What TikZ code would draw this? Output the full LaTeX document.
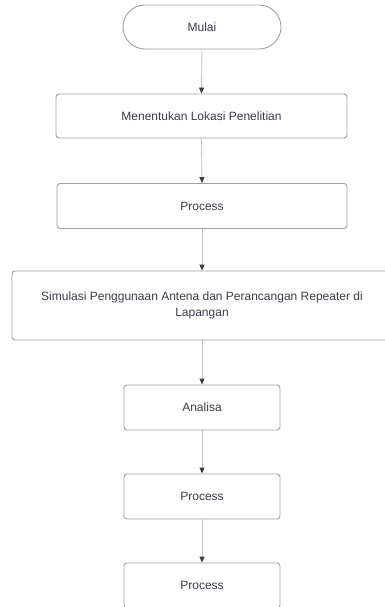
\documentclass[tikz,border=0pt]{standalone}
\usepackage{fontspec}
\setmainfont{Liberation Sans}
\usetikzlibrary{arrows.meta}
\definecolor{boxline}{HTML}{A0A0A0}
\definecolor{conn}{HTML}{C4C4C4}
\definecolor{tipc}{HTML}{3A3D45}
\definecolor{txt}{HTML}{3A3D45}
\begin{document}
\begin{tikzpicture}[x=1pt,y=-1pt,
  box/.style={draw=boxline,line width=0.9pt,rounded corners=3pt,inner sep=0pt,
    font=\fontsize{12}{16}\selectfont,text=txt,align=center},
  term/.style={box,rounded corners=22pt},
  conn/.style={draw=conn,line width=0.9pt,-{Triangle[width=5pt,length=6pt,color=tipc]}}]
\useasboundingbox[fill=white] (0,0) rectangle (384,607);
\node[term,minimum width=158pt,minimum height=44pt] (mulai) at (202,27) {Mulai};
\node[box,minimum width=291pt,minimum height=44pt] (lokasi) at (201.5,116) {Menentukan Lokasi Penelitian};
\node[box,minimum width=290pt,minimum height=45pt] (proc1) at (202,206) {Process};
\node[box,minimum width=380pt,minimum height=69pt] (sim) at (202,305.5) {Simulasi Penggunaan Antena dan Perancangan Repeater di\\Lapangan};
\node[box,minimum width=156pt,minimum height=45pt] (analisa) at (202,407.5) {Analisa};
\node[box,minimum width=156pt,minimum height=45pt] (proc2) at (202,496.5) {Process};
\node[box,minimum width=156pt,minimum height=45pt] (proc3) at (202,585.5) {Process};
\draw[conn] (mulai.south) -- (lokasi.north);
\draw[conn] (lokasi.south) -- (proc1.north);
\draw[conn] (proc1.south) -- (sim.north);
\draw[conn] (sim.south) -- (analisa.north);
\draw[conn] (analisa.south) -- (proc2.north);
\draw[conn] (proc2.south) -- (proc3.north);
\end{tikzpicture}
\end{document}
